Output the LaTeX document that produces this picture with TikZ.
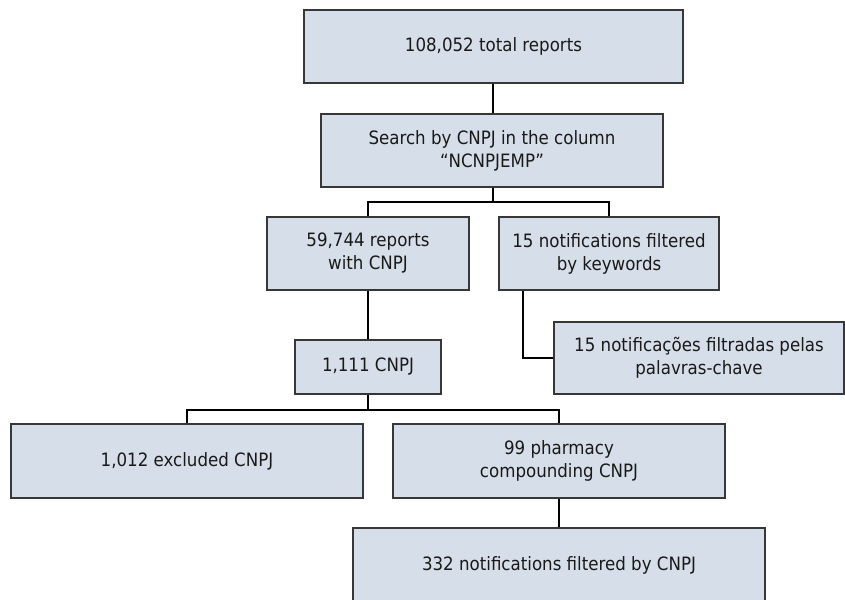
\documentclass[tikz,border=0pt]{standalone}
\usepackage{fontspec}
\setmainfont{DejaVu Sans}[FakeStretch=0.905]
\definecolor{boxfill}{RGB}{214,223,233}
\definecolor{boxline}{RGB}{55,55,55}
\definecolor{txt}{RGB}{25,25,25}
\begin{document}
\begin{tikzpicture}[x=1pt,y=-1pt,
  fbox/.style={draw=boxline,line width=1.4pt,fill=boxfill,text=txt,align=center,
    inner sep=0pt,font=\fontsize{18.4}{23}\selectfont},
  conn/.style={draw=black,line width=1.2pt}]
\useasboundingbox (0,0) rectangle (845,599);
\node[fbox,minimum width=379,minimum height=73] (b1) at (493.5,46.5) {108,052 total reports};
\node[fbox,minimum width=342,minimum height=73] (b2) at (492,150.5) {Search by CNPJ in the column\\“NCNPJEMP”};
\node[fbox,minimum width=202,minimum height=73] (b3) at (368,253.5) {59,744 reports\\with CNPJ};
\node[fbox,minimum width=220,minimum height=73] (b4) at (609,253.5) {15 notifications filtered\\by keywords};
\node[fbox,minimum width=290,minimum height=72] (b5) at (699,358) {15 notificações filtradas pelas\\palavras-chave};
\node[fbox,minimum width=146,minimum height=54] (b6) at (368,367) {1,111 CNPJ};
\node[fbox,minimum width=352,minimum height=74] (b7) at (187,461) {1,012 excluded CNPJ};
\node[fbox,minimum width=332,minimum height=74] (b8) at (559,461) {99 pharmacy\\compounding CNPJ};
\node[fbox,minimum width=412,minimum height=74] (b9) at (559,565) {332 notifications filtered by CNPJ};
\coordinate (j1) at (493,202);
\coordinate (j2) at (368,410);
\draw[conn] (b1.south -| 493,0) -- (b2.north -| 493,0);
\draw[conn] (b2.south -| j1) -- (j1);
\draw[conn] (b3.north) |- (j1) -| (b4.north);
\draw[conn] ([xshift=-86pt]b4.south) |- (b5.west);
\draw[conn] (b3.south) -- (b6.north);
\draw[conn] (b6.south) -- (j2);
\draw[conn] (b7.north) |- (j2) -| (b8.north);
\draw[conn] (b8.south) -- (b9.north);
\end{tikzpicture}
\end{document}
